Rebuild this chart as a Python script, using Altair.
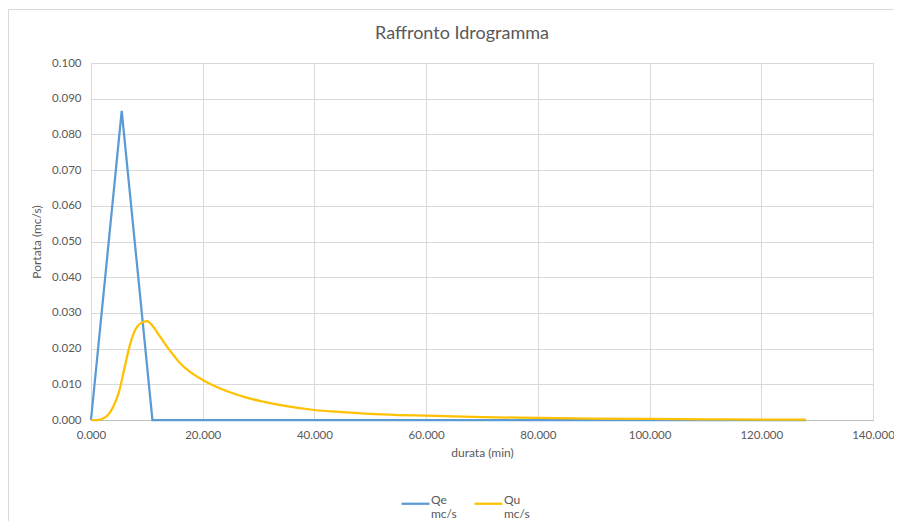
import altair as alt
import pandas as pd

# ---- data ----
qe_t = [0.0, 5.5, 11.0, 128.0]
qe_v = [0.0, 0.0866, 0.0, 0.0]

qu_t = [0, 1, 2, 3, 4, 5, 6, 7, 8, 9, 10, 11, 12, 13, 14, 15, 16, 18, 20, 22,
        25, 28, 31, 35, 40, 45, 50, 55, 60, 70, 80, 90, 100, 110, 120, 128]
qu_v = [0.0, 0.0000, 0.0003, 0.0013, 0.0038, 0.0078, 0.0146, 0.0212, 0.0255,
        0.0272, 0.0277, 0.0264, 0.0242, 0.0219, 0.0197, 0.0177, 0.0158, 0.0132,
        0.0112, 0.0096, 0.0077, 0.0062, 0.0051, 0.0039, 0.0028, 0.0022, 0.0017,
        0.0014, 0.0012, 0.0008, 0.0006, 0.0004, 0.0003, 0.0002, 0.0001, 0.0001]

series_names = ["Qe mc/s", "Qu mc/s"]
series_colors = ["#5B9BD5", "#FFC000"]

x_ticks = [0, 20, 40, 60, 80, 100, 120, 140]
y_ticks = [0.0, 0.01, 0.02, 0.03, 0.04, 0.05, 0.06, 0.07, 0.08, 0.09, 0.1]

df_qe = pd.DataFrame({"t": qe_t, "q": qe_v, "s": series_names[0]})
df_qu = pd.DataFrame({"t": qu_t, "q": qu_v, "s": series_names[1]})

FONT = "Lato"
TXT = "#595959"
W, H = 782, 357

color = alt.Color(
    "s:N",
    scale=alt.Scale(domain=series_names, range=series_colors),
    legend=alt.Legend(
        title=None,
        orient="none",
        legendX=309,
        legendY=425,
        direction="horizontal",
        symbolType="stroke",
        symbolSize=784,
        symbolStrokeWidth=2.25,
        labelExpr="split(datum.label, ' ')",
        labelBaseline="alphabetic",
        labelFont=FONT,
        labelFontSize=12,
        labelColor=TXT,
        labelOffset=0,
        columnPadding=13,
    ),
)

x = alt.X(
    "t:Q",
    title="durata (min)",
    scale=alt.Scale(domain=[0, 140], nice=False),
    axis=alt.Axis(values=x_ticks, format=".3f", labelFlush=False, ticks=False,
                  labelPadding=9, titlePadding=7, domainColor="#bfbfbf",
                  gridColor="#d9d9d9"),
)
y = alt.Y(
    "q:Q",
    title="Portata (mc/s)",
    scale=alt.Scale(domain=[0, 0.1], nice=False),
    axis=alt.Axis(values=y_ticks, format=".3f", ticks=False, domain=False,
                  labelPadding=10, titlePadding=8, gridColor="#d9d9d9"),
)

border = alt.Chart(alt.Data(values=[{}])).mark_rect(
    fill=None, stroke="#d9d9d9", strokeWidth=1, clip=False
).encode(
    x=alt.value(-82.5), x2=alt.value(W + 200),
    y=alt.value(-53.5), y2=alt.value(H + 300),
)

line_qe = alt.Chart(df_qe).mark_line(strokeWidth=2.25, interpolate="linear").encode(
    x=x, y=y, color=color
)
line_qu = alt.Chart(df_qu).mark_line(strokeWidth=2.25, interpolate="monotone").encode(
    x=x, y=y, color=color
)

chart = alt.layer(border, line_qe, line_qu).properties(
    width=W,
    height=H,
    background="white",
    title=alt.TitleParams(
        "Raffronto Idrogramma",
        font=FONT, fontSize=18, fontWeight="normal", color=TXT,
        anchor="middle", offset=-34, dx=-20,
    ),
    autosize=alt.AutoSizeParams(type="none"),
    padding={"left": 83, "top": 55, "right": 21, "bottom": 101},
).configure(
    style={"guide-label": {"lineHeight": 14}}
).configure_view(
    stroke="#d9d9d9"
).configure_axis(
    labelFont=FONT, labelFontSize=11.5, labelColor=TXT,
    titleFont=FONT, titleFontSize=12, titleColor=TXT, titleFontWeight="normal",
)

chart.save("out.html", embed_options={"renderer": "svg", "actions": False})
